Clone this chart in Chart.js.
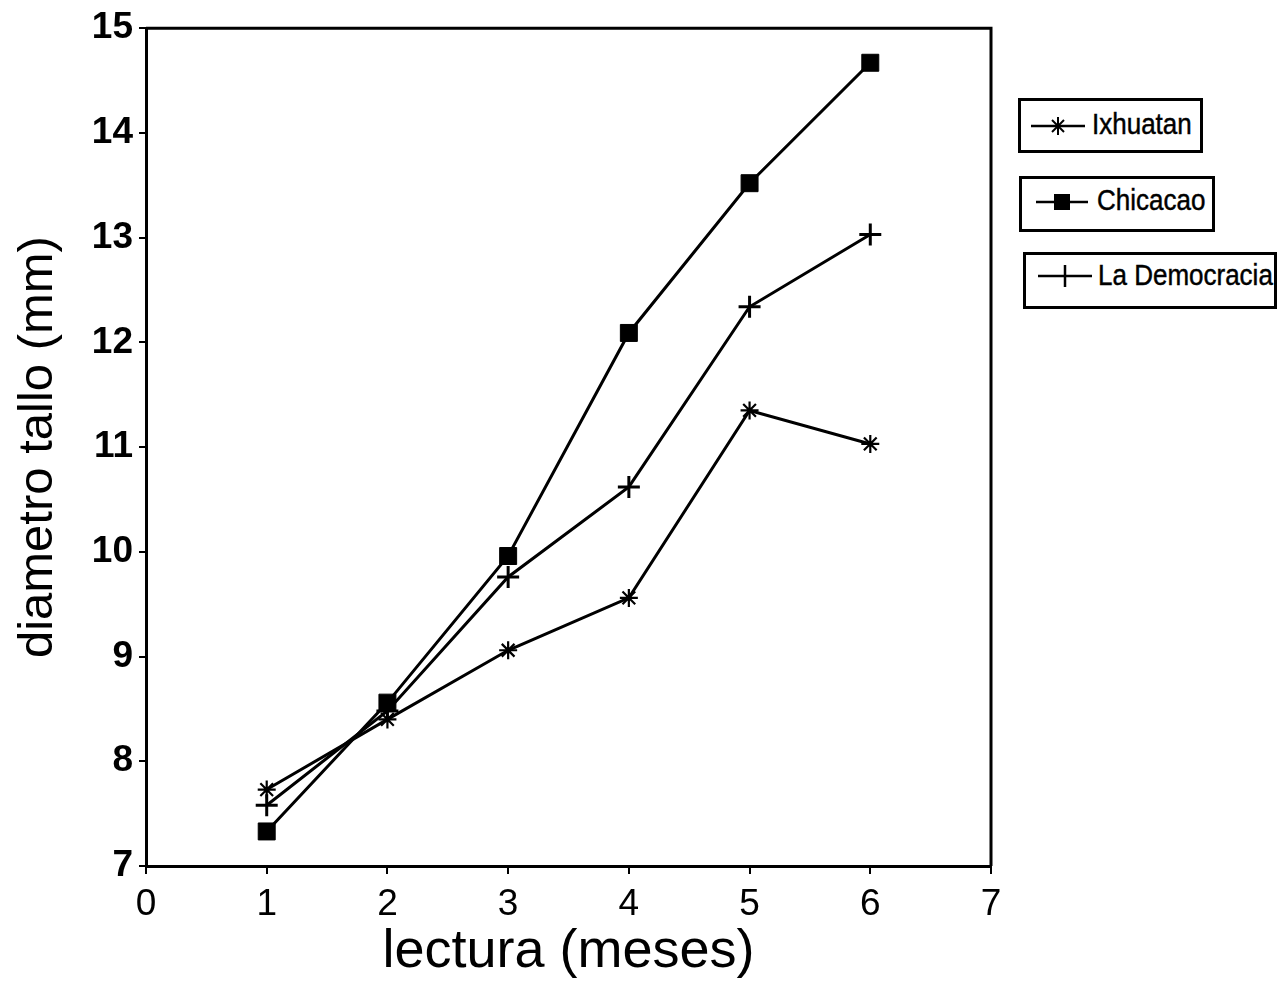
<!DOCTYPE html>
<html>
<head>
<meta charset="utf-8">
<script src="https://cdn.jsdelivr.net/npm/chart.js@4.4.0/dist/chart.umd.min.js"></script>
<style>
  html, body { margin: 0; padding: 0; background: #fff; }
  #wrap { position: relative; width: 1277px; height: 989px; overflow: hidden; font-family: "Liberation Sans", Arial, sans-serif; }
  canvas { position: absolute; left: 0; top: 0; }
  .lg { position: absolute; border: 3px solid #000; background: #fff; box-sizing: border-box; }
  .lg svg { position: absolute; left: 6px; }
  .lg span { position: absolute; font-size: 26px; color: #000; white-space: nowrap; transform: scaleY(1.15); transform-origin: left center; -webkit-text-stroke: 0.4px #000; }
</style>
</head>
<body>
<div id="wrap">
  <canvas id="c" width="1277" height="989"></canvas>
  <div class="lg" style="left:1018px;top:98px;width:185px;height:55px;">
    <svg width="60" height="30" style="top:10px"><line x1="4" y1="15" x2="58" y2="15" stroke="#000" stroke-width="2.5"/>
      <g stroke="#000" stroke-width="2"><line x1="31" y1="6" x2="31" y2="24"/><line x1="22" y1="15" x2="40" y2="15"/><line x1="25" y1="9" x2="37" y2="21"/><line x1="37" y1="9" x2="25" y2="21"/></g></svg>
    <span id="t0" style="left:71px;top:8px;"></span>
  </div>
  <div class="lg" style="left:1019px;top:176px;width:196px;height:56px;">
    <svg width="62" height="30" style="top:8px"><line x1="8" y1="15" x2="60" y2="15" stroke="#000" stroke-width="2.5"/><rect x="26" y="7" width="16" height="16" fill="#000"/></svg>
    <span id="t1" style="left:75px;top:6px;"></span>
  </div>
  <div class="lg" style="left:1023px;top:252px;width:254px;height:57px;">
    <svg width="62" height="30" style="top:6px"><line x1="6" y1="15" x2="60" y2="15" stroke="#000" stroke-width="2.5"/><line x1="33" y1="4" x2="33" y2="26" stroke="#000" stroke-width="2.5"/></svg>
    <span id="t2" style="left:72px;top:5px;"></span>
  </div>
</div>
<script>
// ---- data ----
const seriesNames = ["Ixhuatan", "Chicacao", "La Democracia"];
const months = [1, 2, 3, 4, 5, 6];
const ixhuatan = [7.73, 8.40, 9.06, 9.56, 11.35, 11.03];
const chicacao = [7.33, 8.56, 9.96, 12.09, 13.52, 14.67];
const laDemocracia = [7.58, 8.48, 9.76, 10.62, 12.34, 13.03];
const xTitle = "lectura (meses)";
const yTitle = "diametro tallo (mm)";

document.getElementById('t0').textContent = seriesNames[0];
document.getElementById('t1').textContent = seriesNames[1];
document.getElementById('t2').textContent = seriesNames[2];

const toPts = arr => months.map((m, i) => ({x: m, y: arr[i]}));
const FONT = '"Liberation Sans", Arial, sans-serif';

const frame = {
  id: 'frame',
  afterDraw(chart) {
    const {ctx, chartArea: a} = chart;
    ctx.save();
    ctx.strokeStyle = '#000';
    ctx.lineWidth = 3;
    ctx.beginPath();
    ctx.moveTo(a.left, a.top);
    ctx.lineTo(a.right, a.top);
    ctx.lineTo(a.right, a.bottom);
    ctx.stroke();
    ctx.restore();
  }
};

new Chart(document.getElementById('c'), {
  type: 'line',
  data: {
    datasets: [
      { label: seriesNames[0], data: toPts(ixhuatan), borderColor: '#000', backgroundColor: '#000',
        borderWidth: 3, pointStyle: 'star', pointRadius: 9, pointBorderWidth: 2.2, pointBorderColor: '#000', tension: 0 },
      { label: seriesNames[1], data: toPts(chicacao), borderColor: '#000', backgroundColor: '#000',
        borderWidth: 3, pointStyle: 'rect', pointRadius: 12, pointBorderWidth: 1, pointBorderColor: '#000', pointBackgroundColor: '#000', tension: 0 },
      { label: seriesNames[2], data: toPts(laDemocracia), borderColor: '#000', backgroundColor: '#000',
        borderWidth: 3, pointStyle: 'cross', pointRadius: 11, pointBorderWidth: 3, pointBorderColor: '#000', tension: 0 }
    ]
  },
  options: {
    responsive: false,
    animation: false,
    layout: { padding: { left: 0, right: 286, top: 28, bottom: 0 } },
    plugins: { legend: { display: false }, tooltip: { enabled: false } },
    scales: {
      x: {
        type: 'linear', min: 0, max: 7,
        ticks: { stepSize: 1, color: '#000', font: { family: FONT, size: 37 }, padding: 9, maxRotation: 0 },
        grid: { display: true, drawOnChartArea: false, drawTicks: true, tickLength: 8, tickColor: '#000', lineWidth: 2 },
        border: { display: true, color: '#000', width: 3 },
        title: { display: true, text: xTitle, color: '#000', font: { family: FONT, size: 54 }, padding: { top: 0, bottom: 4 } },
        afterFit(s) { s.height = 123; }
      },
      y: {
        type: 'linear', min: 7, max: 15,
        ticks: { stepSize: 1, color: '#000', font: { family: FONT, size: 37, weight: 'bold' }, padding: 6 },
        grid: { display: true, drawOnChartArea: false, drawTicks: true, tickLength: 7, tickColor: '#000', lineWidth: 2 },
        border: { display: true, color: '#000', width: 3 },
        title: { display: true, text: yTitle, color: '#000', font: { family: FONT, size: 49 }, padding: { top: 9, bottom: 0 } },
        afterFit(s) { s.width = 146; }
      }
    }
  },
  plugins: [frame]
});
</script>
</body>
</html>
